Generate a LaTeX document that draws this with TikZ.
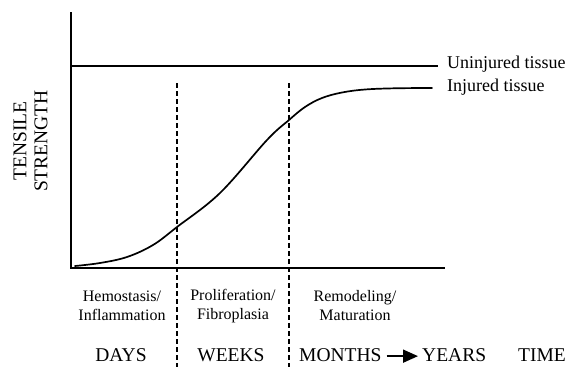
\documentclass[tikz,border=0pt]{standalone}
\usepackage{fontspec}
\setmainfont{Liberation Serif}
\usetikzlibrary{arrows.meta}
\begin{document}
\begin{tikzpicture}[x=1pt,y=-1pt,
  axisline/.style={line width=1.5pt},
  phaseline/.style={line width=1.1pt, dash pattern=on 5pt off 3pt},
  curveline/.style={line width=1.7pt, line cap=round},
  lbl/.style={font=\fontsize{16}{19}\selectfont, inner sep=0pt, align=center},
  legend/.style={font=\fontsize{18}{21}\selectfont, inner sep=0pt, anchor=west},
  ylbl/.style={font=\fontsize{19.5}{21}\selectfont, inner sep=0pt, align=center, rotate=90},
  unit/.style={font=\fontsize{19.5}{22}\selectfont, inner sep=0pt, anchor=base},
]
\useasboundingbox (0,0) rectangle (568,367);
% axes
\coordinate (top) at (71,12);
\coordinate (origin) at (71,268);
\coordinate (xend) at (445,268);
\draw[axisline] (top) -- (origin) -- (xend);
% uninjured
\coordinate (u0) at (71,66);
\coordinate (u1) at (438,66);
\draw[axisline] (u0) -- (u1);
% phase separators
\coordinate (d1t) at (177,83);
\coordinate (d1b) at (177,367);
\coordinate (d2t) at (289,83);
\coordinate (d2b) at (289,367);
\draw[phaseline] (d1t) -- (d1b);
\draw[phaseline] (d2t) -- (d2b);
% injured curve
\draw[curveline] plot[smooth, tension=0.6] coordinates {(75,266) (100,263) (127,257) (153,245) (177,227) (220,193) (267,140) (289,120) (305,107) (322,98) (342,92.5) (365,89.5) (395,88.3) (432,88)};
% legend labels
\node[legend] (uninj) at (447,64) {Uninjured tissue};
\node[legend] (inj) at (447,87) {Injured tissue};
% y label
\node[ylbl] (ylab) at (30.5,141) {TENSILE\\STRENGTH};
% phases
\node[lbl] (p1) at (122,306) {Hemostasis/\\Inflammation};
\node[lbl] (p2) at (233,306) {Proliferation/\\Fibroplasia};
\node[lbl] (p3) at (355,306) {Remodeling/\\Maturation};
% time units
\node[unit] (days) at (121,361.5) {DAYS};
\node[unit] (weeks) at (231,361.5) {WEEKS};
\node[unit, anchor=base west] (months) at (299,361.5) {MONTHS};
\node[unit, anchor=base west] (years) at (422,361.5) {YEARS};
\node[unit] (time) at (542,361.5) {TIME};
\draw[line width=1.7pt, -{Triangle[length=15pt,width=13pt]}] ([xshift=5pt,yshift=-1pt]months.east) -- ([xshift=-4pt,yshift=-1pt]years.west);
\end{tikzpicture}
\end{document}
